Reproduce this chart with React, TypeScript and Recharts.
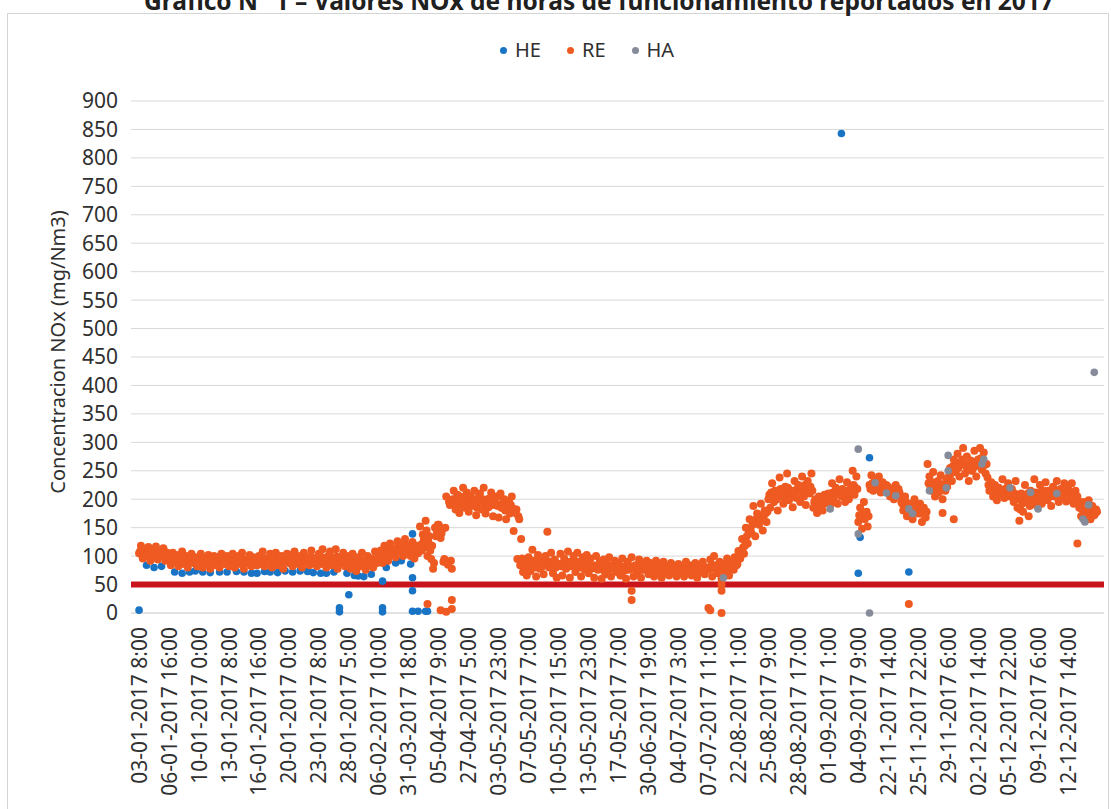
import React from "react";
import { ScatterChart, Scatter, XAxis, YAxis, CartesianGrid, ReferenceLine, Legend } from "recharts";

// Category labels shown every 16 samples (each sample = 5 operating hours)
const tickLabels = [
  "03-01-2017 8:00", "06-01-2017 16:00", "10-01-2017 0:00", "13-01-2017 8:00",
  "16-01-2017 16:00", "20-01-2017 0:00", "23-01-2017 8:00", "28-01-2017 5:00",
  "06-02-2017 10:00", "31-03-2017 18:00", "05-04-2017 9:00", "27-04-2017 5:00",
  "03-05-2017 23:00", "07-05-2017 7:00", "10-05-2017 15:00", "13-05-2017 23:00",
  "17-05-2017 7:00", "30-06-2017 19:00", "04-07-2017 3:00", "07-07-2017 11:00",
  "22-08-2017 1:00", "25-08-2017 9:00", "28-08-2017 17:00", "01-09-2017 1:00",
  "04-09-2017 9:00", "22-11-2017 14:00", "25-11-2017 22:00", "29-11-2017 6:00",
  "02-12-2017 14:00", "05-12-2017 22:00", "09-12-2017 6:00", "12-12-2017 14:00",
];
const samplesPerLabel = 16;

const yTicks = [0, 50, 100, 150, 200, 250, 300, 350, 400, 450, 500, 550, 600, 650, 700, 750, 800, 850, 900];
const limitValue = 50;

// RE series (sampled readings), grouped by period
const reJanuary = [
  105, 118, 96, 112, 100, 116, 92, 110, 98, 117, 94, 108, 100, 114, 92, 106,
  98, 84, 106, 90, 102, 82, 96, 108, 86, 100, 80, 94, 104, 88, 98, 82,
  92, 104, 80, 96, 86, 102, 78, 94, 100, 84, 98, 80, 104, 90, 86, 100,
  82, 96, 104, 80, 92, 100, 86, 106, 78, 94, 88, 102, 82, 98, 92, 84,
  100, 86, 108, 82, 96, 90, 104, 80, 98, 106, 84, 92, 100, 78, 94, 104,
  88, 102, 82, 108, 94, 86, 100, 80, 106, 92, 98, 84, 110, 90, 96, 82,
  104, 86, 112, 92, 80, 100, 108, 84, 96, 112, 78, 98, 88, 106, 82, 100,
  92, 78, 104, 86, 74, 98, 82, 106, 90, 76, 100, 84, 96, 80, 108, 88,
];
const reFebApril = [
  96, 110, 88, 118, 102, 92, 122, 106, 114, 98, 126, 108, 120, 100, 130, 112,
  118, 100, 125, 96, 112, 105, 152, 110, 128, 162, 100, 135, 95, 78, 150, 140,
  155, 132, 148, 95, 205, 85, 190, 78, 215, 182, 208, 176, 198, 220, 185, 212,
  178, 205, 190, 215, 172, 198, 210, 182, 220, 175, 200, 188, 212, 170, 195, 205,
  168, 210, 185, 200, 165, 192, 175, 205, 144, 176, 95, 165, 130, 72, 88, 66,
];
const reMayJuly = [
  98, 74, 111, 84, 64, 102, 78, 92, 68, 100, 143, 80, 106, 70, 94, 62,
  86, 104, 66, 96, 78, 108, 62, 90, 100, 72, 106, 84, 64, 98, 76, 102,
  70, 96, 82, 62, 100, 76, 90, 60, 94, 68, 86, 98, 64, 80, 92, 72,
  88, 66, 96, 74, 60, 90, 80, 98, 64, 84, 70, 94, 62, 86, 76, 92,
  68, 88, 76, 64, 92, 72, 84, 62, 90, 70, 80, 66, 88, 74, 82, 64,
  86, 70, 80, 64, 90, 74, 84, 66, 78, 88, 62, 82, 72, 90, 68, 80,
  76, 94, 64, 100, 82, 70, 90, 60, 86, 74, 96, 66, 88, 78, 98, 84,
];
const reAugSept = [
  109, 96, 130, 104, 150, 122, 165, 140, 188, 135, 175, 155, 192, 145, 180, 160,
  200, 185, 228, 195, 215, 180, 238, 205, 192, 222, 245, 198, 212, 186, 232, 202,
  225, 195, 240, 205, 190, 232, 210, 245, 185, 200, 176, 205, 190, 180, 208, 195,
  210, 190, 228, 198, 220, 192, 235, 205, 215, 195, 230, 200, 222, 250, 208, 240,
  160, 185, 148, 195, 170, 152, 225, 242, 215, 235, 220, 240, 212, 230, 218, 225,
];
const reNovDec = [
  222, 205, 215, 200, 225, 208, 212, 195, 180, 205, 170, 192, 178, 165, 200, 185,
  175, 192, 160, 185, 168, 262, 240, 215, 248, 205, 230, 212, 242, 200, 225, 235,
  238, 255, 232, 270, 248, 280, 240, 262, 290, 245, 275, 232, 268, 252, 285, 240,
  270, 290, 252, 282, 245, 238, 215, 230, 205, 225, 198, 220, 210, 235, 202, 218,
  228, 205, 218, 195, 232, 185, 162, 210, 178, 225, 195, 170, 215, 200, 235, 190,
  200, 225, 192, 215, 230, 198, 210, 188, 222, 205, 232, 195, 218, 202, 228, 196,
  220, 198, 228, 192, 215, 205, 185, 170, 195, 162, 180, 198, 165, 188, 172, 182,
];

// RE readings in between the samples above (half a sample later), grouped by period
const reMidJanuary = [
  108, 102, 110, 104, 100, 106, 103, 109, 101, 105, 107, 100, 104, 108, 102, 98,
  95, 92, 97, 90, 94, 98, 91, 93, 96, 90, 94, 97, 92, 95, 89, 93,
  90, 94, 88, 92, 95, 89, 91, 93, 88, 92, 90, 94, 89, 91, 95, 90,
  91, 89, 94, 92, 88, 93, 95, 90, 92, 89, 94, 91, 93, 88, 90, 94,
  92, 95, 90, 94, 89, 93, 96, 91, 93, 90, 95, 92, 89, 94, 91, 93,
  94, 92, 96, 91, 95, 98, 92, 94, 90, 96, 93, 95, 97, 92, 94, 90,
  95, 98, 93, 96, 91, 94, 97, 92, 95, 99, 90, 94, 96, 93, 91, 95,
  88, 92, 90, 86, 91, 88, 93, 89, 86, 91, 88, 92, 89, 94, 90, 96,
];
const reMidFebApril = [
  100, 104, 98, 108, 106, 100, 112, 110, 106, 114, 116, 112, 118, 114, 120, 118,
  108, 115, 110, 104, 118, 112, 120, 138, 115, 145, 125, 110, 118, 88, 135, 155,
  145, 140, 90, 150, 88, 195, 92, 200, 195, 200, 192, 205, 188, 198, 200, 192,
  195, 188, 200, 192, 185, 205, 196, 200, 190, 198, 186, 202, 194, 190, 204, 188,
  190, 185, 198, 180, 188, 196, 190, 184, 178, 182, 170, 84, 96, 80, 92, 76,
];
const reMidMayJuly = [
  84, 88, 92, 80, 86, 90, 84, 82, 88, 92, 86, 90, 84, 88, 80, 86,
  86, 82, 88, 84, 90, 86, 82, 88, 84, 86, 90, 80, 86, 84, 88, 82,
  82, 78, 84, 80, 78, 84, 80, 76, 82, 80, 76, 82, 78, 84, 78, 80,
  78, 80, 76, 82, 78, 76, 80, 78, 82, 76, 80, 78, 76, 80, 78, 82,
  78, 76, 80, 76, 78, 80, 74, 78, 76, 80, 74, 78, 76, 78, 74, 76,
  76, 78, 74, 78, 76, 80, 74, 76, 78, 74, 76, 78, 74, 80, 76, 78,
  80, 82, 78, 84, 76, 80, 82, 74, 80, 84, 78, 80, 82, 76, 84, 86,
];
const reMidAugSept = [
  100, 110, 115, 118, 135, 140, 148, 155, 160, 165, 158, 168, 172, 165, 175, 178,
  208, 212, 205, 215, 200, 210, 218, 212, 205, 215, 220, 210, 205, 215, 210, 218,
  215, 220, 210, 225, 212, 218, 222, 215, 195, 190, 192, 188, 195, 192, 196, 200,
  205, 210, 212, 208, 215, 210, 212, 218, 208, 212, 215, 210, 218, 225, 220, 218,
  172, 168, 175, 165, 178, 170, 218, 228, 225, 222, 230, 225, 228, 220, 224, 215,
];
const reMidNovDec = [
  212, 215, 210, 214, 210, 218, 205, 192, 188, 195, 185, 190, 180, 188, 192, 178,
  180, 175, 182, 172, 178, 228, 222, 230, 225, 220, 232, 222, 218, 226, 215, 222,
  250, 245, 258, 252, 262, 255, 265, 270, 262, 258, 255, 262, 250, 265, 258, 262,
  265, 272, 268, 260, 262, 225, 222, 218, 215, 212, 210, 215, 208, 212, 218, 210,
  212, 215, 205, 210, 208, 200, 182, 192, 198, 205, 210, 188, 195, 205, 212, 208,
  212, 208, 210, 205, 212, 215, 205, 210, 208, 215, 212, 210, 208, 212, 210, 214,
  210, 212, 208, 212, 205, 195, 188, 182, 178, 180, 172, 185, 178, 180, 175, 178,
];

// isolated RE readings (sample position, value)
const reExtraIndex = [154, 161, 164, 167, 167, 263, 263, 304, 305, 311, 311, 311, 411, 429, 435, 501];
const reExtraValue = [16, 5, 2, 7, 23, 39, 23, 9, 5, 0, 39, 50, 16, 176, 165, 122];

// HE readings visible in the chart (sample position, value)
const heIndex = [
  0, 4, 8, 12, 19, 23, 27, 30, 34, 38, 43, 47, 52, 56, 60, 63, 67, 70, 74, 78, 82, 86, 90, 93, 97,
  100, 104, 107, 107, 111, 112, 115, 117, 120, 124, 130, 130, 130, 132, 137, 140, 145,
  146, 146, 146, 146, 149, 153, 154, 375, 384, 385, 390, 411,
];
const heValue = [
  5, 84, 80, 82, 72, 70, 72, 74, 72, 71, 72, 72, 73, 72, 70, 70, 73, 72, 71, 74, 72, 74, 73, 71, 70,
  70, 72, 9, 2, 70, 32, 66, 65, 64, 68, 9, 2, 56, 80, 88, 92, 86,
  139, 62, 39, 3, 3, 3, 3, 843, 70, 133, 273, 72,
];

// HA readings (sample position, value)
const haIndex = [312, 369, 384, 384, 390, 393, 399, 404, 411, 413, 422, 431, 432, 432, 450, 451, 465, 476, 480, 490, 504, 505, 507, 510];
const haValue = [62, 183, 288, 139, 0, 229, 211, 206, 183, 175, 215, 220, 277, 250, 262, 270, 220, 212, 183, 210, 165, 160, 190, 423];

const seriesNames = ["HE", "RE", "HA"];
const seriesColors = ["#1a74c6", "#ee5a21", "#858b99"];

const reValues = [...reJanuary, ...reFebApril, ...reMayJuly, ...reAugSept, ...reNovDec];
const reMidValues = [...reMidJanuary, ...reMidFebApril, ...reMidMayJuly, ...reMidAugSept, ...reMidNovDec];
const reData = reMidValues
  .map((y, i) => ({ x: i + 0.5, y }))
  .concat(reValues.map((y, x) => ({ x, y })))
  .concat(reExtraIndex.map((x, i) => ({ x, y: reExtraValue[i] })));
const heData = heIndex.map((x, i) => ({ x, y: heValue[i] }));
const haData = haIndex.map((x, i) => ({ x, y: haValue[i] }));
const xTicks = tickLabels.map((_, k) => k * samplesPerLabel);

const FONT = "'Noto Sans', 'Open Sans', sans-serif";

const dotShape = (color: string, r: number) => (props: any) =>
  props.cx == null ? <g /> : <circle cx={props.cx} cy={props.cy} r={r} fill={color} />;

const XTick = (props: any) => {
  const { x, y, payload } = props;
  const label = tickLabels[Math.round(payload.value / samplesPerLabel)] ?? "";
  return (
    <text
      x={x}
      y={y}
      dy="0.36em"
      textAnchor="end"
      transform={`rotate(-90 ${x} ${y})`}
      fontSize={21}
      fontFamily={FONT}
      fill="#303030"
    >
      {label}
    </text>
  );
};

const YLabel = (props: any) => {
  const vb = props.viewBox || { x: 0, y: 101, width: 131, height: 512 };
  const cx = vb.x + 58;
  const cy = vb.y + vb.height / 2 - 5;
  return (
    <text
      x={cx}
      y={cy}
      dy="0.36em"
      textAnchor="middle"
      transform={`rotate(-90 ${cx} ${cy})`}
      fontSize={20}
      fontFamily={FONT}
      fill="#303030"
    >
      Concentracion NOx (mg/Nm3)
    </text>
  );
};

const LegendContent = () => (
  <div style={{ display: "flex", alignItems: "center", fontFamily: FONT, fontSize: 20, color: "#303030", lineHeight: "24px" }}>
    {seriesNames.map((n, i) => (
      <div key={n} style={{ display: "flex", alignItems: "center", marginRight: 26 }}>
        <span style={{ display: "inline-block", width: 7, height: 7, borderRadius: 4, background: seriesColors[i], marginRight: 8 }} />
        <span>{n}</span>
      </div>
    ))}
  </div>
);

export default function App() {
  return (
    <div style={{ position: "absolute", left: 0, top: 0, width: 1111, height: 809, overflow: "hidden", background: "#fff" }}>
      <svg width={1111} height={809} style={{ position: "absolute", left: 0, top: 0 }}>
        <rect x={7.5} y={13.5} width={1101} height={820} fill="none" stroke="#d4d4d4" strokeWidth={1} />
        <text x={599} y={10} textAnchor="middle" fontSize={24.5} fontWeight="bold" fontFamily={FONT} fill="#202020">
          Gráfico N° 1 – Valores NOx de horas de funcionamiento reportados en 2017
        </text>
      </svg>
      <div style={{ position: "absolute", left: 0, top: 0 }}>
        <ScatterChart width={1111} height={809} margin={{ top: 101, right: 7, bottom: 0, left: 0 }}>
          <CartesianGrid vertical={false} stroke="#d8d8d8" strokeWidth={1} />
          <XAxis
            type="number"
            dataKey="x"
            domain={[-4.3, 515.2]}
            allowDataOverflow
            ticks={xTicks}
            interval={0}
            tick={<XTick />}
            tickLine={false}
            tickMargin={8}
            axisLine={{ stroke: "#d8d8d8" }}
            height={196}
          />
          <YAxis
            type="number"
            dataKey="y"
            domain={[0, 900]}
            ticks={yTicks}
            interval={0}
            tickLine={false}
            axisLine={false}
            tickMargin={7}
            width={131}
            tick={{ fontSize: 21, fill: "#303030", fontFamily: FONT }}
            label={{ content: (p: any) => <YLabel {...p} /> }}
          />
          <Legend
            layout="horizontal"
            verticalAlign="middle"
            align="center"
            content={() => <LegendContent />}
            wrapperStyle={{ top: 38, left: 500, width: 260 }}
          />
          <Scatter name="HE" data={heData} fill={seriesColors[0]} shape={dotShape(seriesColors[0], 3.8)} isAnimationActive={false} />
          <Scatter name="RE" data={reData} fill={seriesColors[1]} shape={dotShape(seriesColors[1], 4.0)} isAnimationActive={false} />
          <Scatter name="HA" data={haData} fill={seriesColors[2]} shape={dotShape(seriesColors[2], 3.8)} isAnimationActive={false} />
          <ReferenceLine y={limitValue} stroke="#c9141c" strokeWidth={6} ifOverflow="extendDomain" />
        </ScatterChart>
      </div>
    </div>
  );
}
